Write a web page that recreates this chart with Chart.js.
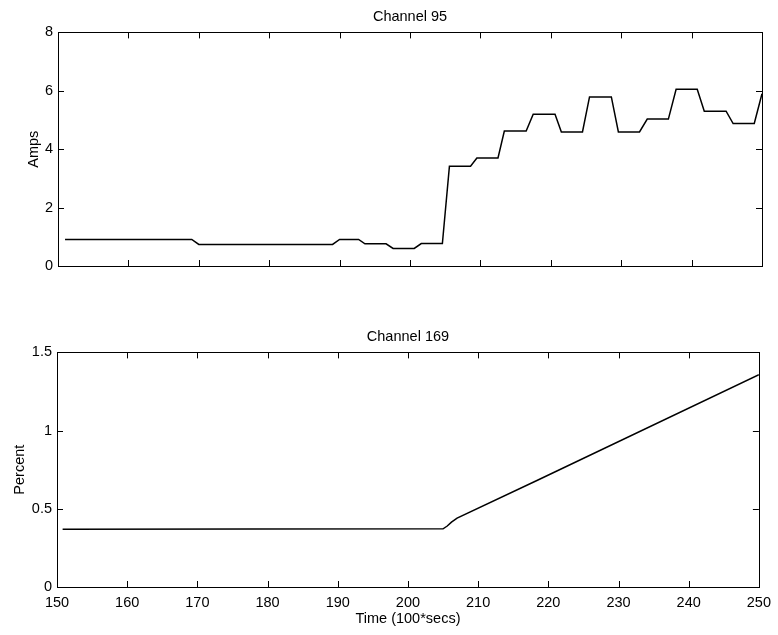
<!DOCTYPE html>
<html>
<head>
<meta charset="utf-8">
<title>Channel 95 / Channel 169</title>
<script src="https://cdn.jsdelivr.net/npm/chart.js@4.4.0/dist/chart.umd.min.js"></script>
<style>
    body { margin: 0; background: #fff; }
    #wrap { position: relative; width: 778px; height: 635px; }
    canvas { position: absolute; left: 0; }
</style>
</head>
<body>
<div id="wrap">
    <canvas id="chanTop" width="778" height="300" style="top:0px"></canvas>
    <canvas id="chanBottom" width="778" height="315" style="top:320px"></canvas>
</div>
<script>
// Channel 95 - current
var ampsTime = [151, 169, 170, 189, 190, 192.7, 193.6, 196.6, 197.6, 200.6, 201.6, 204.6,
    205.6, 208.6, 209.5, 212.5, 213.4, 216.5, 217.5, 220.6, 221.5, 224.5, 225.5, 228.6,
    229.6, 232.6, 233.7, 236.7, 237.8, 240.8, 241.8, 244.9, 245.9, 248.9, 250];
var ampsValues = [0.91, 0.91, 0.74, 0.74, 0.91, 0.91, 0.76, 0.76, 0.6, 0.6, 0.77, 0.77,
    3.42, 3.42, 3.7, 3.7, 4.62, 4.62, 5.2, 5.2, 4.59, 4.59, 5.79, 5.79,
    4.59, 4.59, 5.03, 5.03, 6.05, 6.05, 5.3, 5.3, 4.88, 4.88, 5.9];

// Channel 169 - percent
var percentTime = [150.8, 205, 205.6, 206.2, 207, 218.6, 250];
var percentValues = [0.37, 0.372, 0.39, 0.415, 0.44, 0.686, 1.357];

// tick values
var timeTicks = [150, 160, 170, 180, 190, 200, 210, 220, 230, 240, 250];
var ampsTicks = [0, 2, 4, 6, 8];
var percentTicks = [0, 0.5, 1, 1.5];

var FONT = { family: '"Liberation Sans", Arial, Helvetica, sans-serif', size: 14.5 };

function toPoints(xs, ys) {
    return xs.map(function (x, i) { return { x: x, y: ys[i] }; });
}

// box round the plot and inward tick marks on all four sides
var boxTicks = {
    id: 'boxTicks',
    afterDatasetsDraw: function (chart) {
        var ctx = chart.ctx, a = chart.chartArea;
        var xs = chart.scales.x, ys = chart.scales.y;
        var len = 6;
        ctx.save();
        ctx.strokeStyle = '#000';
        ctx.lineWidth = 1;
        ctx.strokeRect(Math.round(a.left) + 0.5, Math.round(a.top) + 0.5,
            Math.round(a.right - a.left), Math.round(a.bottom - a.top));
        ctx.beginPath();
        xs.ticks.forEach(function (t) {
            var px = Math.round(xs.getPixelForValue(t.value)) + 0.5;
            ctx.moveTo(px, a.bottom); ctx.lineTo(px, a.bottom - len);
            ctx.moveTo(px, a.top); ctx.lineTo(px, a.top + len);
        });
        ys.ticks.forEach(function (t) {
            var py = Math.round(ys.getPixelForValue(t.value)) + 0.5;
            ctx.moveTo(a.left, py); ctx.lineTo(a.left + len, py);
            ctx.moveTo(a.right, py); ctx.lineTo(a.right - len, py);
        });
        ctx.stroke();
        ctx.restore();
    }
};

function makeChart(id, opts) {
    var ctx = document.getElementById(id).getContext('2d');
    return new Chart(ctx, {
        type: 'line',
        data: {
            datasets: [{
                data: toPoints(opts.xs, opts.ys),
                borderColor: '#000',
                borderWidth: 1.5,
                pointRadius: 0,
                tension: 0,
                fill: false
            }]
        },
        options: {
            responsive: false,
            animation: false,
            events: [],
            layout: { padding: { left: 0, right: opts.right, top: 0, bottom: 0 } },
            plugins: {
                legend: { display: false },
                tooltip: { enabled: false },
                title: {
                    display: true,
                    text: opts.title,
                    color: '#000',
                    fullSize: false,
                    font: { family: FONT.family, size: 14.5, weight: 'normal' },
                    padding: { top: 8, bottom: 7 }
                }
            },
            scales: {
                x: {
                    type: 'linear',
                    min: 150,
                    max: 250,
                    afterBuildTicks: function (scale) {
                        scale.ticks = timeTicks.map(function (v) { return { value: v }; });
                    },
                    afterFit: function (scale) { scale.height = opts.xHeight; },
                    grid: { display: false, drawTicks: false },
                    border: { display: false },
                    ticks: { display: opts.xLabels, color: '#000', font: FONT, padding: 7, maxRotation: 0 },
                    title: {
                        display: opts.xLabels,
                        text: 'Time (100*secs)',
                        color: '#000',
                        font: FONT,
                        padding: { top: 0, bottom: 7 }
                    }
                },
                y: {
                    min: opts.yTicks[0],
                    max: opts.yTicks[opts.yTicks.length - 1],
                    afterBuildTicks: function (scale) {
                        scale.ticks = opts.yTicks.map(function (v) { return { value: v }; });
                    },
                    afterFit: function (scale) { scale.width = opts.left; },
                    grid: { display: false, drawTicks: false },
                    border: { display: false },
                    ticks: {
                        color: '#000', font: FONT, padding: 5,
                        callback: function (v) { return String(v); }
                    },
                    title: {
                        display: true,
                        text: opts.yTitle,
                        color: '#000',
                        font: FONT,
                        padding: { top: opts.yTitlePad, bottom: 0 }
                    }
                }
            }
        },
        plugins: [boxTicks]
    });
}

window.addEventListener('DOMContentLoaded', function () {
    makeChart('chanTop', {
        xs: ampsTime, ys: ampsValues, title: 'Channel 95', yTitle: 'Amps',
        yTicks: ampsTicks, left: 58, right: 16, xHeight: 34, xLabels: false, yTitlePad: 25
    });
    makeChart('chanBottom', {
        xs: percentTime, ys: percentValues, title: 'Channel 169', yTitle: 'Percent',
        yTicks: percentTicks, left: 57, right: 17, xHeight: 48, xLabels: true, yTitlePad: 11
    });
});
</script>
</body>
</html>
